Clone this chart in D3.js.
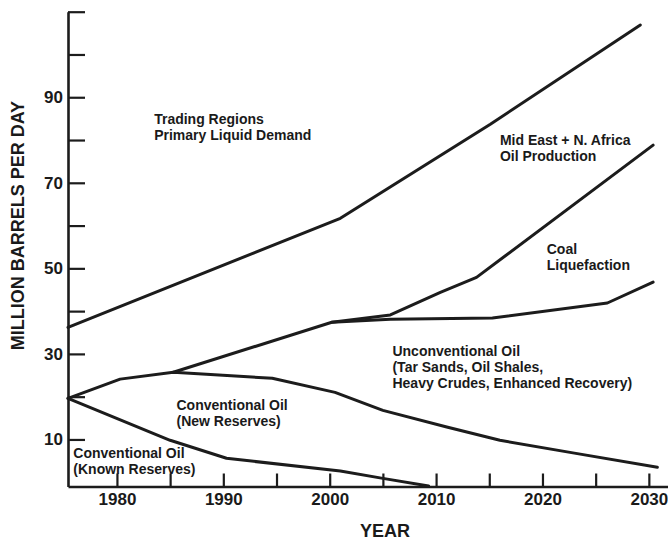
<!DOCTYPE html>
<html>
<head>
<meta charset="utf-8">
<script src="https://cdn.jsdelivr.net/npm/d3@7/dist/d3.min.js"></script>
<style>
  html, body { margin: 0; padding: 0; background: #ffffff; }
  svg { display: block; }
  text { font-family: "Liberation Sans", Arial, Helvetica, sans-serif; font-weight: bold; fill: #1a1a1a; }
</style>
</head>
<body>
<svg id="chart" width="668" height="541"></svg>
<script>
// ---- data (years, million barrels per day) ----
const demandYears   = [1975.4, 2001.0, 2015.1, 2029.2];
const demandValues  = [36.2, 61.7, 83.7, 106.9];

const midEastYears  = [2000.2, 2005.7, 2010.4, 2013.8, 2030.4];
const midEastValues = [37.4, 39.1, 44.4, 47.9, 78.8];

const coalYears     = [1985.3, 2000.2, 2005.7, 2015.3, 2026.1, 2030.4];
const coalValues    = [25.7, 37.4, 38.1, 38.4, 41.9, 46.8];

const newResYears   = [1975.4, 1980.3, 1985.3, 1994.6, 2000.5, 2005.0, 2011.0, 2016.0, 2023.0, 2030.8];
const newResValues  = [19.6, 24.1, 25.7, 24.3, 21.0, 16.8, 12.9, 9.8, 6.8, 3.5];

const knownResYears  = [1975.4, 1985.0, 1990.3, 2001.0, 2005.0, 2009.3];
const knownResValues = [19.6, 9.8, 5.6, 2.6, 0.9, -0.9];

const yTickValues  = [10, 20, 30, 40, 50, 60, 70, 80, 90, 100, 110];
const yTickLabels  = [10, 30, 50, 70, 90];
const xTickValues  = [1980, 1985, 1990, 1995, 2000, 2005, 2010, 2015, 2020, 2025, 2030];
const xTickLabels  = [1980, 1990, 2000, 2010, 2020, 2030];

const labelTexts = [
  ["Trading Regions", "Primary Liquid Demand"],
  ["Mid East + N. Africa", "Oil Production"],
  ["Coal", "Liquefaction"],
  ["Unconventional Oil", "(Tar Sands, Oil Shales,", "Heavy Crudes, Enhanced Recovery)"],
  ["Conventional Oil", "(New Reserves)"],
  ["Conventional Oil", "(Known Reserves)"]
];
const labelYears  = [1983.5, 2016.0, 2020.4, 2005.9, 1985.6, 1975.9];
const labelValues = [83.7, 78.8, 53.3, 29.5, 16.8, 5.6];

const yTitle = "MILLION BARRELS PER DAY";
const xTitle = "YEAR";

// ---- scales ----
const x = d3.scaleLinear().domain([1975.4, 2031.8]).range([68, 668]);
const y = d3.scaleLinear().domain([-1, 110]).range([486.5, 11.7]);

const svg = d3.select("#chart");
const ink = "#1c1c1c";

// ---- axes ----
const yAxis = d3.axisLeft(y)
  .tickValues(yTickValues)
  .tickSizeInner(-17)
  .tickSizeOuter(0)
  .tickPadding(5)
  .tickFormat(d => yTickLabels.includes(d) ? String(d) : "");
const gy = svg.append("g").attr("transform", `translate(${x.range()[0]},0)`).call(yAxis);

const xAxis = d3.axisBottom(x)
  .tickValues(xTickValues)
  .tickSizeInner(-13)
  .tickSizeOuter(0)
  .tickPadding(6)
  .tickFormat(d => xTickLabels.includes(d) ? String(d) : "");
const gx = svg.append("g").attr("transform", `translate(0,${y(y.domain()[0])})`).call(xAxis);

[gx, gy].forEach(g => {
  g.select(".domain").attr("stroke", ink).attr("stroke-width", 2.6);
  g.selectAll(".tick line").attr("stroke", ink).attr("stroke-width", 2.2);
  g.selectAll(".tick text").attr("fill", ink).attr("font-size", 17)
    .attr("font-family", "'Liberation Sans', Arial, sans-serif").attr("font-weight", "bold");
});

// ---- lines ----
const line = d3.line().x(d => x(d[0])).y(d => y(d[1])).curve(d3.curveLinear);
const series = [
  [demandYears, demandValues],
  [midEastYears, midEastValues],
  [coalYears, coalValues],
  [newResYears, newResValues],
  [knownResYears, knownResValues]
];
series.forEach(([yrs, vals]) => {
  svg.append("path")
    .datum(yrs.map((yr, i) => [yr, vals[i]]))
    .attr("d", line)
    .attr("fill", "none")
    .attr("stroke", ink)
    .attr("stroke-width", 3)
    .attr("stroke-linejoin", "round")
    .attr("stroke-linecap", "round");
});

// ---- region labels ----
labelTexts.forEach((lines, i) => {
  const t = svg.append("text")
    .attr("x", x(labelYears[i]))
    .attr("y", y(labelValues[i]))
    .attr("font-size", 14);
  lines.forEach((s, j) => {
    t.append("tspan").attr("x", x(labelYears[i])).attr("dy", j === 0 ? 0 : 16).text(s);
  });
});

// ---- axis titles ----
svg.append("text")
  .attr("transform", `translate(24,${y(60)}) rotate(-90)`)
  .attr("text-anchor", "middle")
  .attr("font-size", 18)
  .text(yTitle);

svg.append("text")
  .attr("x", x(2005.2))
  .attr("y", 537)
  .attr("text-anchor", "middle")
  .attr("font-size", 18)
  .text(xTitle);
</script>
</body>
</html>
